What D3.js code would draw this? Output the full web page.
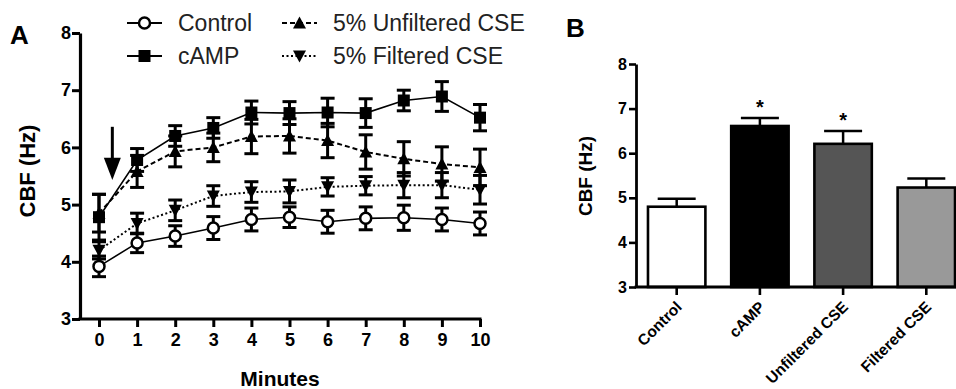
<!DOCTYPE html>
<html>
<head>
<meta charset="utf-8">
<script src="https://cdn.jsdelivr.net/npm/d3@7"></script>
<style>
  body { margin: 0; background: #fff; }
  text { font-family: "Liberation Sans", Arial, sans-serif; }
</style>
</head>
<body>
<svg id="chart" width="956" height="389"></svg>
<script>
// panel A data
var minutes = [0, 1, 2, 3, 4, 5, 6, 7, 8, 9, 10];
var controlMean = [3.92, 4.33, 4.45, 4.59, 4.74, 4.78, 4.70, 4.76, 4.77, 4.74, 4.67];
var controlErr = [0.18, 0.17, 0.18, 0.2, 0.2, 0.18, 0.2, 0.2, 0.22, 0.2, 0.2];
var campMean = [4.78, 5.78, 6.2, 6.34, 6.61, 6.6, 6.61, 6.6, 6.82, 6.89, 6.52];
var campErr = [0.4, 0.2, 0.18, 0.18, 0.2, 0.2, 0.25, 0.25, 0.18, 0.26, 0.23];
var unfilteredMean = [4.85, 5.58, 5.93, 6.0, 6.19, 6.2, 6.12, 5.92, 5.8, 5.71, 5.65];
var unfilteredErr = [0.33, 0.28, 0.27, 0.25, 0.3, 0.3, 0.3, 0.3, 0.3, 0.3, 0.32];
var filteredMean = [4.2, 4.67, 4.9, 5.15, 5.22, 5.23, 5.31, 5.33, 5.34, 5.34, 5.26];
var filteredErr = [0.15, 0.18, 0.18, 0.18, 0.18, 0.2, 0.16, 0.16, 0.22, 0.22, 0.25];
var yTicksA = [3, 4, 5, 6, 7, 8];

// panel B data
var groups = ['Control', 'cAMP', 'Unfiltered CSE', 'Filtered CSE'];
var groupMean = [4.8, 6.61, 6.21, 5.23];
var groupErr = [0.18, 0.18, 0.29, 0.2];
var groupStar = [false, true, true, false];
var groupFill = ['#ffffff', '#000000', '#555555', '#999999'];
var yTicksB = [3, 4, 5, 6, 7, 8];

var svg = d3.select('#chart');

// ---------- Panel A ----------
var xA = d3.scaleLinear().domain([0, 10]).range([99, 480]);
var yA = d3.scaleLinear().domain([3, 8]).range([319, 33]);

var gA = svg.append('g');

gA.append('text').attr('x', 10).attr('y', 44)
  .style('font-size', '26px').style('font-weight', 'bold').text('A');

var yAxisA = gA.append('g')
  .attr('transform', 'translate(80,0)')
  .call(d3.axisLeft(yA).tickValues(yTicksA).tickSize(8).tickSizeOuter(0).tickFormat(d3.format('d')));
yAxisA.select('.domain').attr('stroke-width', 3.2);
yAxisA.selectAll('.tick line').attr('stroke-width', 3);
yAxisA.selectAll('.tick text')
  .attr('x', -9)
  .style('font-size', '18px').style('font-weight', 'bold')
  .style('font-family', '"Liberation Sans", Arial, sans-serif');

var xAxisA = gA.append('g')
  .attr('transform', 'translate(0,319)')
  .call(d3.axisBottom(xA).tickValues(minutes).tickSize(8).tickSizeOuter(0));
xAxisA.select('.domain').remove();
xAxisA.selectAll('.tick line').attr('stroke-width', 3);
xAxisA.selectAll('.tick text')
  .attr('y', 14)
  .style('font-size', '18px').style('font-weight', 'bold')
  .style('font-family', '"Liberation Sans", Arial, sans-serif');
gA.append('line')
  .attr('x1', 78.4).attr('x2', xA(10) + 1.5)
  .attr('y1', 319).attr('y2', 319)
  .attr('stroke', '#000').attr('stroke-width', 3.2);

gA.append('text')
  .attr('x', 280).attr('y', 386)
  .attr('text-anchor', 'middle')
  .style('font-size', '21px').style('font-weight', 'bold')
  .text('Minutes');

gA.append('text')
  .attr('transform', 'translate(35,171) rotate(-90)')
  .attr('text-anchor', 'middle')
  .style('font-size', '22px').style('font-weight', 'bold')
  .text('CBF (Hz)');

// arrow at t = 0
var arrowX = xA(0.35);
gA.append('line')
  .attr('x1', arrowX).attr('x2', arrowX)
  .attr('y1', yA(6.36)).attr('y2', yA(5.75))
  .attr('stroke', '#000').attr('stroke-width', 3);
gA.append('path')
  .attr('d', 'M' + (arrowX - 8.5) + ',' + yA(5.82) + 'L' + (arrowX + 8.5) + ',' + yA(5.82) + 'L' + arrowX + ',' + yA(5.43) + 'Z')
  .attr('fill', '#000');

var seriesA = [
  { name: 'Control', mean: controlMean, err: controlErr, symbol: 'circle', dash: null },
  { name: 'cAMP', mean: campMean, err: campErr, symbol: 'square', dash: null },
  { name: '5% Unfiltered CSE', mean: unfilteredMean, err: unfilteredErr, symbol: 'up', dash: '5,3' },
  { name: '5% Filtered CSE', mean: filteredMean, err: filteredErr, symbol: 'down', dash: '2,2.5' }
];

function drawSymbol(g, kind, cx, cy) {
  if (kind === 'circle') {
    g.append('circle').attr('cx', cx).attr('cy', cy).attr('r', 5.5)
      .attr('fill', '#fff').attr('stroke', '#000').attr('stroke-width', 2.5);
  } else if (kind === 'square') {
    g.append('rect').attr('x', cx - 6).attr('y', cy - 6).attr('width', 12).attr('height', 12)
      .attr('fill', '#000');
  } else if (kind === 'up') {
    g.append('path').attr('d', 'M' + (cx - 6.5) + ',' + (cy + 5.5) + 'L' + (cx + 6.5) + ',' + (cy + 5.5) + 'L' + cx + ',' + (cy - 6.5) + 'Z')
      .attr('fill', '#000');
  } else {
    g.append('path').attr('d', 'M' + (cx - 6.5) + ',' + (cy - 5.5) + 'L' + (cx + 6.5) + ',' + (cy - 5.5) + 'L' + cx + ',' + (cy + 6.5) + 'Z')
      .attr('fill', '#000');
  }
}

var lineGen = d3.line()
  .x(function (d, i) { return xA(minutes[i]); })
  .y(function (d) { return yA(d); });

// back-to-front so Control sits on top
[3, 2, 1, 0].forEach(function (k) {
  var s = seriesA[k];
  var g = gA.append('g');
  g.append('path')
    .attr('d', lineGen(s.mean))
    .attr('fill', 'none').attr('stroke', '#000')
    .attr('stroke-width', s.dash ? 2 : 1.6)
    .attr('stroke-dasharray', s.dash);
  s.mean.forEach(function (m, i) {
    var cx = xA(minutes[i]);
    var top = yA(m + s.err[i]), bot = yA(m - s.err[i]);
    g.append('line').attr('x1', cx).attr('x2', cx).attr('y1', top).attr('y2', bot)
      .attr('stroke', '#000').attr('stroke-width', 3);
    [top, bot].forEach(function (yy) {
      g.append('line').attr('x1', cx - 7).attr('x2', cx + 7).attr('y1', yy).attr('y2', yy)
        .attr('stroke', '#000').attr('stroke-width', 3);
    });
    drawSymbol(g, s.symbol, cx, yA(m));
  });
});

// legend
var legendPos = [[127, 23], [127, 56], [282, 23], [282, 56]];
seriesA.forEach(function (s, i) {
  var lx = legendPos[i][0], ly = legendPos[i][1];
  var g = gA.append('g');
  g.append('line').attr('x1', lx).attr('x2', lx + 35).attr('y1', ly).attr('y2', ly)
    .attr('stroke', '#000').attr('stroke-width', s.dash ? 2 : 1.8)
    .attr('stroke-dasharray', s.dash);
  drawSymbol(g, s.symbol, lx + 17.5, ly);
  g.append('text').attr('x', lx + 51).attr('y', ly + 8)
    .style('font-size', '23px').style('fill', '#222')
    .text(s.name);
});

// ---------- Panel B ----------
var xB = d3.scaleBand().domain(groups).range([636, 967]).paddingInner(0.31).paddingOuter(0.144);
var yB = d3.scaleLinear().domain([3, 8]).range([287, 64]);

var gB = svg.append('g');

gB.append('text').attr('x', 566).attr('y', 37)
  .style('font-size', '26px').style('font-weight', 'bold').text('B');

gB.append('text')
  .attr('transform', 'translate(592,176) rotate(-90)')
  .attr('text-anchor', 'middle')
  .style('font-size', '19px').style('font-weight', 'bold')
  .text('CBF (Hz)');

var barData = groups.map(function (g, i) {
  return { name: g, mean: groupMean[i], err: groupErr[i], star: groupStar[i], fill: groupFill[i] };
});

gB.selectAll('rect.bar')
  .data(barData)
  .enter()
  .append('rect')
  .attr('class', 'bar')
  .attr('x', function (d) { return xB(d.name); })
  .attr('width', xB.bandwidth())
  .attr('y', function (d) { return yB(d.mean); })
  .attr('height', function (d) { return yB(3) - yB(d.mean); })
  .attr('fill', function (d) { return d.fill; })
  .attr('stroke', '#000').attr('stroke-width', 2.6);

barData.forEach(function (d) {
  var cx = xB(d.name) + xB.bandwidth() / 2;
  var top = yB(d.mean + d.err);
  gB.append('line').attr('x1', cx).attr('x2', cx).attr('y1', yB(d.mean)).attr('y2', top)
    .attr('stroke', '#000').attr('stroke-width', 2.5);
  gB.append('line').attr('x1', cx - 19).attr('x2', cx + 19).attr('y1', top).attr('y2', top)
    .attr('stroke', '#000').attr('stroke-width', 2.5);
  if (d.star) {
    gB.append('text').attr('x', cx).attr('y', top - 4)
      .attr('text-anchor', 'middle')
      .style('font-size', '20px').style('font-weight', 'bold')
      .text('*');
  }
});

var yAxisB = gB.append('g')
  .attr('transform', 'translate(636,0)')
  .call(d3.axisLeft(yB).tickValues(yTicksB).tickSize(7).tickSizeOuter(0).tickFormat(d3.format('d')));
yAxisB.select('.domain').attr('stroke-width', 2.8);
yAxisB.selectAll('.tick line').attr('stroke-width', 2.6);
yAxisB.selectAll('.tick text')
  .attr('x', -9)
  .style('font-size', '16px').style('font-weight', 'bold')
  .style('font-family', '"Liberation Sans", Arial, sans-serif');

var xAxisB = gB.append('g')
  .attr('transform', 'translate(0,287)')
  .call(d3.axisBottom(xB).tickSize(8).tickSizeOuter(0));
xAxisB.select('.domain').remove();
xAxisB.selectAll('.tick line').attr('stroke-width', 2.6);
xAxisB.selectAll('.tick text')
  .attr('text-anchor', 'end')
  .attr('transform', 'translate(6,21) rotate(-45)')
  .attr('x', 0).attr('y', 0).attr('dy', 0)
  .style('font-size', '15.5px').style('font-weight', 'bold')
  .style('font-family', '"Liberation Sans", Arial, sans-serif');
gB.append('line')
  .attr('x1', 634.6).attr('x2', 956)
  .attr('y1', 287).attr('y2', 287)
  .attr('stroke', '#000').attr('stroke-width', 2.8);
</script>
</body>
</html>
